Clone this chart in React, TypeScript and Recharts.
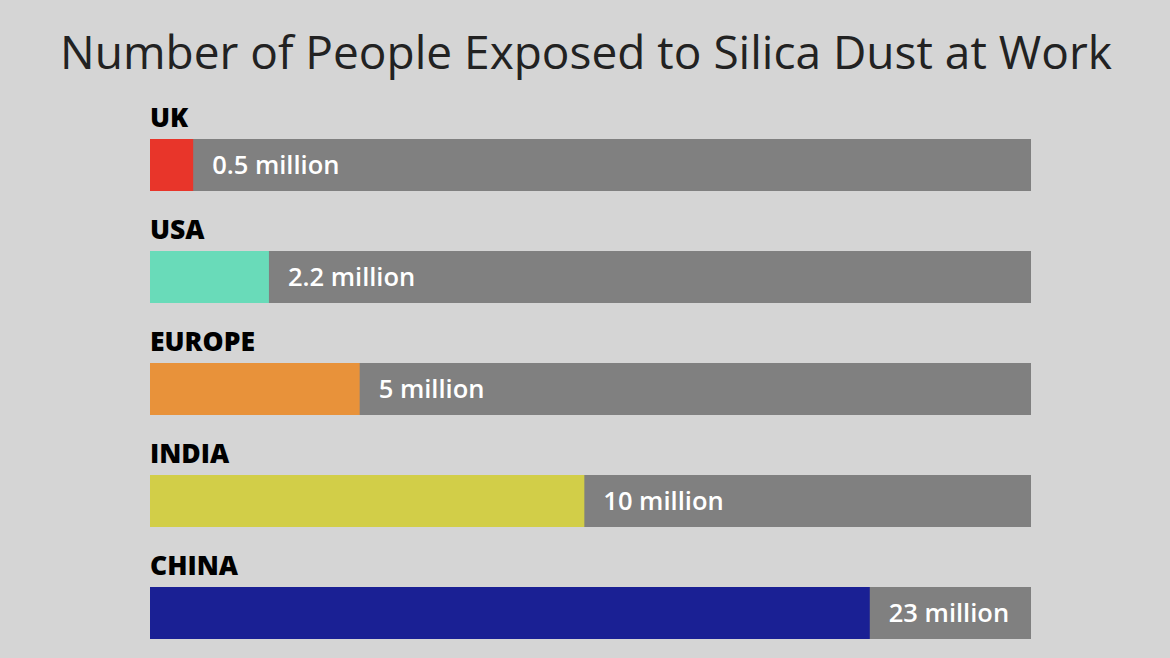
import { BarChart, Bar, XAxis, YAxis, Cell, LabelList } from "recharts";

// regions, from top to bottom
const regions = ["UK", "USA", "EUROPE", "INDIA", "CHINA"];
// text printed on each bar
const valueLabels = ["0.5 million", "2.2 million", "5 million", "10 million", "23 million"];
// coloured length of each bar, as a share (%) of the grey track
const barShare = [4.9, 13.5, 23.8, 49.3, 81.7];
const barColors = ["#e8352a", "#69dbb9", "#e8923a", "#d2ce48", "#1a2094"];

const data = regions.map((name, i) => ({
  name,
  share: barShare[i],
  label: valueLabels[i],
}));

const FONT = "'Open Sans', 'Noto Sans', sans-serif";

function RegionLabel(props: any) {
  const { x, y, value } = props;
  return (
    <text x={x} y={y - 12} fill="#000" fontFamily={FONT} fontWeight={800} fontSize={26.5}>
      {value}
    </text>
  );
}

function ValueLabel(props: any) {
  const { x, y, width, height, value } = props;
  return (
    <text
      x={x + width + 19}
      y={y + height / 2 + 9}
      fill="#fff"
      fontFamily={FONT}
      fontWeight={600}
      fontSize={25.5}
    >
      {value}
    </text>
  );
}

export default function App() {
  return (
    <div
      style={{
        position: "fixed",
        left: 0,
        top: 0,
        width: 1170,
        height: 658,
        overflow: "hidden",
        background: "#d5d5d5",
        fontFamily: FONT,
      }}
    >
      <div
        style={{
          position: "absolute",
          top: 21,
          left: 0,
          width: 1172,
          textAlign: "center",
          fontSize: 46,
          lineHeight: "60px",
          color: "#222",
          whiteSpace: "nowrap",
        }}
      >
        Number of People Exposed to Silica Dust at Work
      </div>
      <BarChart
        width={1170}
        height={700}
        data={data}
        layout="vertical"
        margin={{ top: 109, right: 139, bottom: 31, left: 150 }}
        barCategoryGap={0}
      >
        <XAxis type="number" domain={[0, 100]} hide />
        <YAxis type="category" dataKey="name" hide />
        <Bar
          dataKey="share"
          barSize={52}
          background={{ fill: "#808080" }}
          isAnimationActive={false}
        >
          {data.map((d, i) => (
            <Cell key={d.name} fill={barColors[i]} />
          ))}
          <LabelList dataKey="name" content={<RegionLabel />} />
          <LabelList dataKey="label" content={<ValueLabel />} />
        </Bar>
      </BarChart>
    </div>
  );
}
